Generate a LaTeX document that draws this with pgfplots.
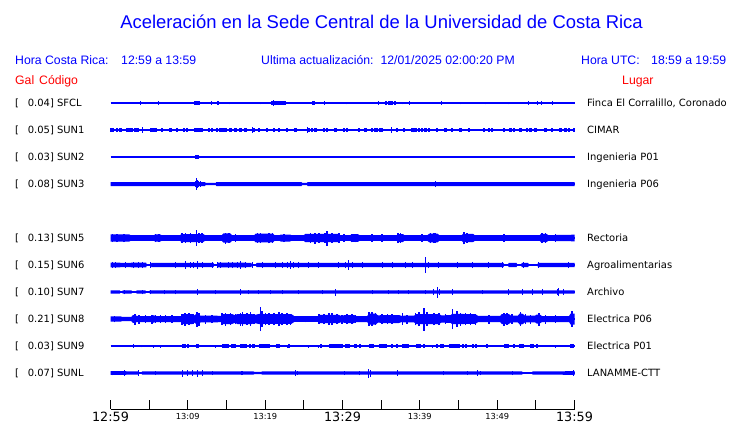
\documentclass[border=0pt]{standalone}
\usepackage{fontspec}
\setmainfont{DejaVu Sans}
\newfontfamily\lib{Liberation Sans}
\usepackage{pgfplots}
\usepackage{pgfplotstable}
\pgfplotsset{compat=1.18}
\definecolor{sblue}{RGB}{0,0,255}
\definecolor{sred}{RGB}{255,0,0}

% ---------- SFCL ----------
\pgfplotstableread{
t a
3.88 2.0
4.5 1.4
6.25 2.0
13.06 1.8
13.9 1.8
15.4 1.4
19.4 1.4
21.1 2.6
21.3 2.3
26.2 1.6
27.7 1.8
30.5 1.4
34.7 1.8
37.7 1.4
38.7 1.8
42.8 1.8
45.3 1.4
48.5 1.4
51.5 1.4
54.1 1.8
55.2 1.8
55.7 1.8
57.1 1.6
}\sfclS
\pgfplotstableread{
t a
11.0 1.8
11.25 1.8
11.45 1.8
20.95 2.0
21.2 2.2
21.45 1.8
21.8 2.0
22.05 1.8
22.3 1.8
22.5 1.8
26.25 1.7
35.6 1.6
36.1 1.8
36.4 1.8
36.8 1.6
}\sfclB
% ---------- SUN1 ----------
\pgfplotstableread{
t a
4.18 2.8
18.32 2.6
25.43 3.2
36.34 2.8
39.2 2.4
}\suniS
\pgfplotstableread{
t a
0.1 1.8
0.35 1.8
0.86 1.8
1.29 1.8
2.1 1.8
2.4 1.8
2.7 1.8
3.2 1.8
3.5 1.8
5.2 1.8
5.5 1.8
5.8 1.8
6.68 1.8
7.76 1.8
8.62 1.8
9.48 1.8
9.91 1.8
11.0 1.8
11.25 2.0
11.5 1.8
11.85 1.8
12.72 1.8
13.15 1.8
13.79 1.8
14.22 1.8
14.53 1.8
14.87 1.8
15.52 1.8
16.16 1.8
16.81 1.8
17.46 1.8
18.5 1.8
19.18 1.8
20.26 1.8
21.12 1.8
21.77 1.8
22.84 1.8
23.92 1.8
25.6 1.8
26.08 1.8
26.51 1.8
27.59 1.8
28.02 1.8
29.09 1.8
30.17 1.8
30.6 1.8
32.11 1.8
32.97 1.8
33.84 1.8
34.18 1.8
34.48 1.8
34.83 1.8
35.13 1.8
37.07 1.8
37.93 1.8
39.01 1.8
39.44 1.8
39.87 1.8
40.3 1.8
40.73 1.8
41.16 1.8
42.24 1.8
43.32 1.8
44.18 1.8
45.26 1.8
46.34 1.8
48.28 1.8
48.92 1.8
49.35 1.8
50.86 1.8
51.72 1.8
52.16 1.8
53.02 1.8
53.88 1.8
54.31 1.8
54.96 1.8
56.25 1.8
57.11 1.8
58.19 1.8
58.84 1.8
59.27 1.8
59.91 1.8
}\suniB
% ---------- SUN2 ----------
\pgfplotstableread{
t a
11.05 1.6
11.2 1.8
11.3 1.6
}\suniiB
% ---------- SUN3 ----------
\pgfplotstableread{
t a
0 0
0 2.0
12.2 2.0
12.3 1.1
13.6 1.1
13.7 2.0
24.7 2.0
24.8 1.1
25.4 1.1
25.5 2.0
60 2.0
60 0
}\suniiiE
\pgfplotstableread{
t a
10.95 3.0
11.12 5.6
11.25 4.0
11.4 3.0
11.6 2.6
42.03 2.8
}\suniiiS
% ---------- SUN5 ----------
\pgfplotstableread{
t a
0 0
0 3.6
2.4 3.6
2.6 2.9
5.6 2.9
5.8 3.6
6.4 3.6
6.6 2.9
9.0 2.9
9.2 4.0
12.0 4.0
12.2 2.9
14.4 2.9
14.6 4.6
15.5 4.6
15.7 2.9
18.6 2.9
18.8 4.4
21.0 4.4
21.2 2.9
21.9 2.9
22.0 3.5
23.2 3.5
23.4 2.9
25.0 2.9
25.2 4.2
29.5 4.2
29.7 2.9
31.0 2.9
31.2 3.8
32.0 3.8
32.2 2.9
37.0 2.9
37.2 4.0
37.8 4.0
38.0 2.9
41.0 2.9
41.2 4.3
42.3 4.3
42.5 2.9
45.4 2.9
45.6 4.2
46.9 4.0
47.1 2.9
55.5 2.9
55.7 4.2
56.4 4.0
56.6 2.9
60 3.3
60 0
}\sunvE
\pgfplotstableread{
t a
0.22 4.2
0.86 4.0
1.72 4.0
5.82 4.0
6.25 3.8
9.27 4.6
9.70 4.6
10.34 4.8
11.12 7.7
11.42 5.2
11.85 4.8
14.87 5.5
15.30 5.2
16.16 3.8
18.97 4.8
19.40 5.0
20.47 5.3
20.91 4.8
22.41 4.2
25.43 4.2
25.86 4.8
26.42 5.5
26.94 4.8
27.72 4.8
28.02 7.5
28.66 4.8
29.53 4.6
30.17 3.8
31.25 4.4
31.68 4.4
33.84 3.8
35.13 3.8
37.20 5.0
37.50 4.6
40.30 3.8
41.38 5.0
41.81 5.2
42.03 4.6
45.69 6.3
46.12 4.8
46.77 4.0
50.86 3.8
55.82 5.0
56.25 4.6
57.54 3.8
}\sunvS
% ---------- SUN6 ----------
\pgfplotstableread{
t a
0 0
0 2.4
1.2 2.4
1.3 2.1
2.6 2.1
2.7 2.4
4.6 2.4
4.7 0.7
5.2 0.7
5.3 2.1
13.3 2.1
13.4 0.7
13.8 0.7
13.9 2.4
17.5 2.4
17.6 2.1
18.2 2.1
18.3 0.7
18.8 0.7
18.9 2.1
50.8 2.1
50.9 0.7
51.4 0.7
51.5 2.1
52.5 2.1
52.6 0.7
53.1 0.7
53.2 2.1
54.0 2.1
54.1 0.7
55.2 0.7
55.3 2.1
60 2.2
60 0
}\sunviE
\pgfplotstableread{
t a
0.22 2.8
0.65 2.8
1.94 2.6
3.02 2.8
3.66 2.8
4.09 3.1
5.17 2.6
8.41 2.8
9.70 3.6
10.34 2.8
10.78 3.1
11.21 3.6
11.85 3.1
13.23 2.8
13.79 2.8
14.22 2.8
15.30 2.8
15.73 3.1
16.38 2.8
16.81 3.6
17.46 2.8
18.32 2.6
19.61 2.8
21.34 2.8
22.20 2.8
22.84 3.1
23.28 3.7
23.71 3.1
24.35 3.1
25.65 2.8
26.94 2.6
29.53 2.8
30.39 3.1
30.82 4.6
31.25 3.1
32.54 2.8
35.13 2.8
36.42 2.8
38.15 2.8
39.01 3.1
40.73 8.0
41.16 3.1
42.46 2.8
44.83 3.1
46.77 3.1
48.92 2.8
50.65 2.8
53.45 2.8
55.39 2.8
59.27 3.1
}\sunviS
% ---------- SUN7 ----------
\pgfplotstableread{
t a
0 0
0 1.7
1.2 1.7
1.3 0.6
1.5 0.6
1.6 1.7
2.7 1.7
2.8 0.6
3.3 0.6
3.4 1.7
4.5 1.7
4.6 0.6
5.0 0.6
5.1 1.7
60 1.7
60 0
}\sunviiE
\pgfplotstableread{
t a
1.85 2.3
4.09 2.3
5.17 2.3
7.03 2.3
8.41 2.3
11.21 2.8
13.58 2.3
16.81 2.8
17.89 2.3
19.18 2.3
20.69 2.3
22.20 2.3
24.35 2.3
27.37 2.3
29.09 3.5
33.84 2.3
35.99 2.3
37.28 2.3
38.58 2.3
40.73 2.3
41.8 3.0
42.24 5.5
42.5 3.0
44.18 2.6
48.06 2.3
51.51 2.6
53.23 2.6
54.53 2.6
55.82 2.6
57.8 2.8
57.97 4.0
58.62 2.6
}\sunviiS
% ---------- SUN8 ----------
\pgfplotstableread{
t a
0 0
0 2.7
1.3 2.7
1.5 2.1
2.7 2.1
2.9 4.0
3.5 3.0
5.3 3.0
5.5 3.8
5.9 3.0
9.1 3.0
9.3 5.0
10.6 5.0
10.8 3.5
11.2 5.5
11.6 3.5
14.3 3.2
14.5 5.0
15.7 5.0
16.1 3.8
16.4 5.0
18.3 5.0
18.6 4.0
19.3 5.2
20.3 4.8
22.0 5.0
23.4 4.8
23.8 2.8
26.8 2.8
27.0 4.2
29.5 4.2
29.8 3.2
30.4 4.0
31.5 4.0
31.8 3.0
33.2 3.0
33.4 5.5
34.3 5.5
34.6 3.5
35.1 4.0
37.3 4.0
37.6 3.2
39.3 3.5
39.5 5.0
42.5 5.0
42.8 3.5
44.0 4.0
44.2 5.2
47.2 4.8
47.5 3.2
50.4 3.2
50.6 5.0
51.5 5.0
51.8 3.3
52.7 3.5
52.9 5.5
53.3 5.2
53.6 3.3
54.9 3.3
55.1 4.5
55.5 4.5
55.8 3.0
59.3 3.0
59.5 5.5
60 5.5
60 0
}\sunviiiE
\pgfplotstableread{
t a
0.5 3.4
3.15 5.5
3.66 4.5
4.53 3.8
5.39 4.5
5.82 4.0
6.47 3.8
7.11 4.2
7.97 3.8
9.27 5.5
9.61 6.5
10.13 5.8
10.65 5.0
11.21 7.5
11.42 6.5
12.28 4.5
13.15 4.0
14.44 6.0
14.87 6.5
15.52 5.8
16.16 5.0
16.81 6.5
17.03 7.0
17.67 6.0
18.10 7.0
18.53 5.0
19.40 12.0
19.61 8.0
20.04 6.0
20.47 5.8
21.12 6.0
21.77 7.0
22.20 5.8
22.84 6.0
23.28 5.5
25.22 3.3
26.94 4.8
27.59 5.0
28.23 5.8
28.66 6.2
29.31 5.0
29.96 4.5
30.60 5.0
31.25 4.8
31.68 4.0
33.41 7.0
33.84 7.0
34.27 6.0
35.13 5.0
35.78 5.2
36.42 4.8
36.85 4.2
37.72 5.8
38.36 4.5
39.44 6.3
39.87 7.0
40.52 11.5
40.95 7.0
41.81 6.0
42.46 6.0
43.32 4.8
44.22 10.0
44.83 7.8
45.26 6.5
45.91 6.0
46.55 6.0
47.20 5.5
48.92 4.5
50.86 6.5
51.29 6.0
51.94 4.8
53.02 7.0
53.66 5.0
54.31 4.5
55.39 6.5
56.25 4.5
57.54 3.8
59.70 7.8
}\sunviiiS
% ---------- SUN9 ----------
\pgfplotstableread{
t a
3.02 1.8
3.97 1.3
5.6 1.5
6.47 1.5
13.58 1.5
22.84 1.5
25.65 1.5
26.94 1.5
41.59 1.5
48.71 1.5
57.54 1.5
}\sunixS
\pgfplotstableread{
t a
9.35 1.8
9.55 1.8
10.04 1.8
11.15 2.3
11.35 2.3
14.6 1.8
14.9 1.8
15.2 1.8
15.8 1.8
16.05 1.8
16.9 1.8
17.2 1.8
17.5 1.8
18.0 1.8
18.5 1.8
19.3 1.8
19.6 1.8
19.9 1.8
20.2 1.8
20.5 1.8
21.5 1.8
21.8 1.8
23.1 1.8
27.2 1.8
28.4 1.8
28.7 1.8
29.0 1.8
29.3 1.8
29.6 1.8
29.85 1.8
30.5 1.8
30.85 1.8
31.7 1.8
32.3 1.8
33.55 1.8
33.9 1.8
34.85 1.8
35.15 1.8
35.45 1.8
35.65 1.8
36.4 1.8
37.07 1.8
37.85 1.8
38.15 1.8
38.45 1.8
39.6 1.8
39.95 1.8
40.5 1.8
42.2 1.8
42.8 1.8
43.0 1.8
43.9 1.8
44.2 1.8
44.5 1.8
44.8 1.8
45.1 1.8
45.6 1.8
45.95 1.8
46.9 1.8
47.25 1.8
48.7 1.8
51.0 1.8
51.35 1.8
52.16 1.8
52.95 1.8
53.3 1.8
54.45 1.8
54.65 1.8
55.17 1.8
59.6 2.2
59.8 2.2
}\sunixB
% ---------- SUNL ----------
\pgfplotstableread{
t a
0 0
0 1.8
2.0 1.8
2.1 1.6
3.6 1.6
3.7 0.6
4.0 0.6
4.1 1.6
18.5 1.6
18.6 1.1
19.5 1.1
19.6 1.6
53.2 1.6
53.3 0.8
54.5 0.8
54.6 1.6
60 1.8
60 0
}\sunlE
\pgfplotstableread{
t a
0.22 2.4
1.29 2.2
1.85 2.6
3.66 2.6
5.8 2.2
9.27 3.5
9.91 2.8
10.65 2.8
11.21 3.5
11.85 2.6
13.2 2.2
17.0 2.2
23.92 2.6
24.2 2.2
30.3 2.2
32.2 2.4
33.41 4.5
33.62 3.5
37.07 2.8
43.1 2.4
46.12 2.2
47.41 2.6
47.84 2.4
52.0 2.2
59.91 2.6
}\sunlS

\newcommand\baseln[1]{\addplot[sblue, line width=1.1bp, forget plot] coordinates {(0,#1) (60,#1)};}
% band: upper and lower halves, each closed along the baseline
\newcommand\band[2]{%
  \addplot[fill=sblue, draw=none, forget plot] table[x=t, y expr=#1+\thisrow{a}] {#2};
  \addplot[fill=sblue, draw=none, forget plot] table[x=t, y expr=#1-\thisrow{a}] {#2};
}
% spikes: vertical segments from base-a to base+a
\newcommand\spk[3]{%
  \addplot[sblue, line width=#3, forget plot, -,
    quiver={u=0, v=2*\thisrow{a}}]
    table[x=t, y expr=#1-\thisrow{a}] {#2};
}

\begin{document}
\begin{tikzpicture}
\fill[white] (0,0) rectangle (740bp,-423bp);
\useasboundingbox (0,0) rectangle (740bp,-423bp);
\begin{axis}[
  at={(110.5bp,-409bp)}, anchor=south west,
  scale only axis, width=464bp, height=321bp,
  xmin=0, xmax=60, ymin=-409, ymax=-88,
  clip=false,
  axis x line=bottom, axis y line=none,
  x axis line style={-, black, line width=0.8bp},
  xtick={0,5,...,60},
  tick align=inside, major tick length=9bp,
  xtick style={black, line width=0.8bp},
  xticklabel style={anchor=base, yshift=-12bp, inner sep=0pt},
  xticklabels={{\fontsize{12.8}{13}\selectfont 12:59},{},
    {\raisebox{1.5bp}{\fontsize{8.3}{9}\selectfont 13:09}},{},
    {\raisebox{1.5bp}{\fontsize{8.3}{9}\selectfont 13:19}},{},
    {\fontsize{12.8}{13}\selectfont 13:29},{},
    {\raisebox{1.5bp}{\fontsize{8.3}{9}\selectfont 13:39}},{},
    {\raisebox{1.5bp}{\fontsize{8.3}{9}\selectfont 13:49}},{},
    {\fontsize{12.8}{13}\selectfont 13:59}},
]
% SFCL
\baseln{-103}
\spk{-103}{\sfclS}{1.1bp}
\spk{-103}{\sfclB}{2.4bp}
% SUN1
\baseln{-130}
\spk{-130}{\suniS}{1.1bp}
\spk{-130}{\suniB}{2.4bp}
% SUN2
\baseln{-157}
\spk{-157}{\suniiB}{1.6bp}
% SUN3
\baseln{-184}
\band{-184}{\suniiiE}
\spk{-184}{\suniiiS}{1.2bp}
% SUN5
\baseln{-238}
\band{-238}{\sunvE}
\spk{-238}{\sunvS}{1.4bp}
% SUN6
\baseln{-265}
\band{-265}{\sunviE}
\spk{-265}{\sunviS}{1.2bp}
% SUN7
\baseln{-292}
\band{-292}{\sunviiE}
\spk{-292}{\sunviiS}{1.2bp}
% SUN8
\baseln{-319}
\band{-319}{\sunviiiE}
\spk{-319}{\sunviiiS}{1.4bp}
% SUN9
\baseln{-346}
\spk{-346}{\sunixS}{1.1bp}
\spk{-346}{\sunixB}{2.4bp}
% SUNL
\baseln{-373}
\band{-373}{\sunlE}
\spk{-373}{\sunlS}{1.2bp}
\end{axis}

% title and header
\node[anchor=base, text=sblue, font=\lib\fontsize{18.5}{20}\selectfont, inner sep=0pt] at (381.5bp,-28bp) {Aceleración en la Sede Central de la Universidad de Costa Rica};
\begin{scope}[every node/.style={anchor=base west, inner sep=0pt, font=\lib\fontsize{12.3}{13}\selectfont}]
\node[text=sblue] at (15bp,-64bp) {Hora Costa Rica:};
\node[text=sblue] at (121bp,-64bp) {12:59 a 13:59};
\node[text=sblue] at (261bp,-64bp) {Ultima actualización:\hspace{7bp}12/01/2025 02:00:20 PM};
\node[text=sblue] at (581bp,-64bp) {Hora UTC:};
\node[text=sblue] at (651bp,-64bp) {18:59 a 19:59};
\node[text=sred] at (15bp,-84bp) {Gal};
\node[text=sred] at (39bp,-84bp) {Código};
\node[text=sred] at (622bp,-84bp) {Lugar};
\end{scope}
% station labels
\begin{scope}[every node/.style={anchor=base west, inner sep=0pt, font=\fontsize{10}{11}\selectfont}]
\foreach \yy/\val/\code/\place in {
  106.7/0.04/SFCL/{Finca El Corralillo, Coronado},
  133.7/0.05/SUN1/CIMAR,
  160.7/0.03/SUN2/Ingenieria P01,
  187.7/0.08/SUN3/Ingenieria P06,
  241.7/0.13/SUN5/Rectoria,
  268.7/0.15/SUN6/Agroalimentarias,
  295.7/0.10/SUN7/Archivo,
  322.7/0.21/SUN8/Electrica P06,
  349.7/0.03/SUN9/Electrica P01,
  376.7/0.07/SUNL/LANAMME-CTT}{
  \node at (15bp,-\yy bp) {[};
  \node at (27.7bp,-\yy bp) {\val] \code};
  \node at (587bp,-\yy bp) {\place};
}
\end{scope}
\end{tikzpicture}
\end{document}
